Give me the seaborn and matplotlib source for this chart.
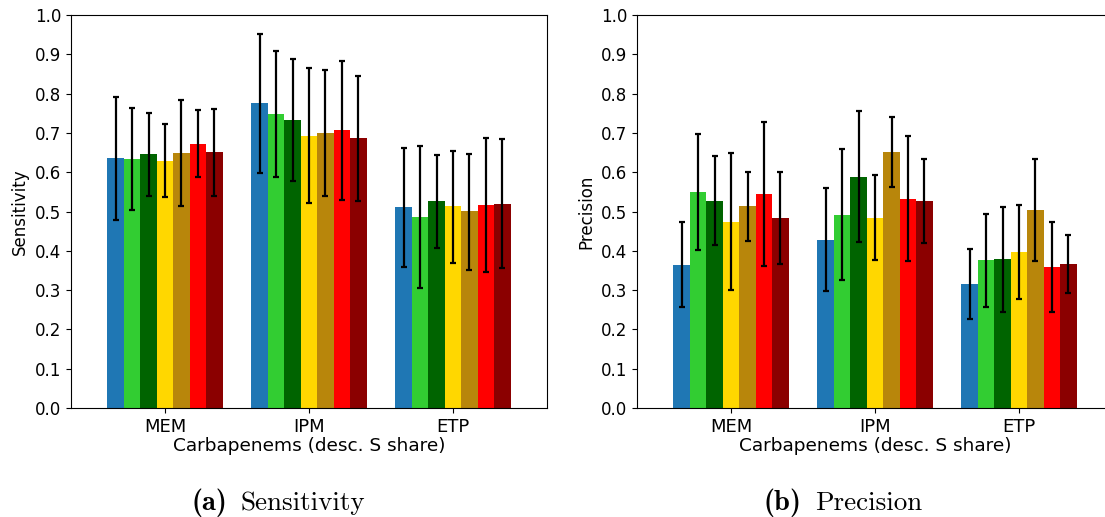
import matplotlib
matplotlib.use("Agg")
import matplotlib.pyplot as plt
import seaborn as sns
import pandas as pd
import numpy as np

plt.rcParams['mathtext.fontset'] = 'cm'
plt.rcParams['axes.unicode_minus'] = False

categories = ["MEM", "IPM", "ETP"]
models = ["M1", "M2", "M3", "M4", "M5", "M6", "M7"]
colors = ["#1f77b4", "#32CD32", "#006400", "#FFD700", "#B8860B", "#FF0000", "#8B0000"]

# Sensitivity: rows = categories, columns = models
sens_val = [[0.636, 0.634, 0.646, 0.628, 0.649, 0.672, 0.651],
            [0.776, 0.748, 0.733, 0.692, 0.700, 0.707, 0.687],
            [0.511, 0.486, 0.527, 0.514, 0.501, 0.516, 0.519]]
sens_lo = [[0.478, 0.504, 0.540, 0.537, 0.515, 0.589, 0.540],
           [0.598, 0.588, 0.578, 0.521, 0.540, 0.529, 0.527],
           [0.360, 0.306, 0.408, 0.370, 0.352, 0.346, 0.355]]
sens_hi = [[0.792, 0.764, 0.751, 0.722, 0.784, 0.757, 0.762],
           [0.952, 0.909, 0.889, 0.866, 0.861, 0.884, 0.846],
           [0.662, 0.667, 0.645, 0.655, 0.647, 0.688, 0.684]]

prec_val = [[0.364, 0.550, 0.527, 0.473, 0.514, 0.545, 0.483],
            [0.427, 0.491, 0.588, 0.483, 0.651, 0.532, 0.527],
            [0.316, 0.377, 0.379, 0.397, 0.504, 0.359, 0.366]]
prec_lo = [[0.257, 0.403, 0.415, 0.300, 0.426, 0.361, 0.366],
           [0.297, 0.325, 0.423, 0.376, 0.563, 0.375, 0.420],
           [0.227, 0.258, 0.245, 0.278, 0.375, 0.244, 0.293]]
prec_hi = [[0.474, 0.696, 0.642, 0.650, 0.601, 0.727, 0.601],
           [0.561, 0.660, 0.755, 0.594, 0.741, 0.693, 0.634],
           [0.405, 0.494, 0.512, 0.517, 0.634, 0.473, 0.441]]

fig = plt.figure(figsize=(11.05, 5.17), dpi=100)
ax1 = fig.add_axes([0.06425, 0.2108, 0.4308, 0.7602])
ax2 = fig.add_axes([0.5765, 0.2108, 0.4308, 0.7602])


def draw(ax, vals, lo, hi, ylabel):
    rows = []
    for i, c in enumerate(categories):
        for j, m in enumerate(models):
            rows.append({"cat": c, "model": m, "val": vals[i][j],
                         "lo": lo[i][j], "hi": hi[i][j]})
    df = pd.DataFrame(rows)
    sns.barplot(data=df, x="cat", y="val", hue="model", order=categories,
                hue_order=models, palette=colors, errorbar=None, gap=0,
                width=0.8, saturation=1, legend=False, ax=ax)
    bars = [p for p in ax.patches if p.get_height() > 0]
    bars.sort(key=lambda p: p.get_x())
    xs = [p.get_x() + p.get_width() / 2 for p in bars]
    # sorted by x -> category-major, model-minor, same as df order
    yerr = np.array([df["val"] - df["lo"], df["hi"] - df["val"]])
    ax.errorbar(xs, df["val"], yerr=yerr, fmt="none", ecolor="black",
                elinewidth=1.6, capsize=2.2, capthick=1.6)
    ax.set_ylim(0, 1.0)
    ax.set_yticks(np.arange(0, 1.01, 0.1))
    ax.set_yticklabels([f"{t:.1f}" for t in np.arange(0, 1.01, 0.1)])
    ax.set_xlim(-0.653, 2.653)
    ax.set_xlabel("Carbapenems (desc. S share)", fontsize=13.3, labelpad=1)
    ax.set_ylabel(ylabel, fontsize=12)
    ax.tick_params(axis="y", labelsize=12)
    ax.tick_params(axis="x", labelsize=13)
    for s in ax.spines.values():
        s.set_visible(True)


draw(ax1, sens_val, sens_lo, sens_hi, "Sensitivity")
draw(ax2, prec_val, prec_lo, prec_hi, "Precision")

ycap = 1 - 510 / 517
fig.text(227 / 1105, ycap, "(a)", ha="right", va="baseline", fontsize=20.5,
         family="cmb10")
fig.text(240 / 1105, ycap, "Sensitivity", ha="left", va="baseline", fontsize=19.5,
         family="cmr10")
fig.text(802 / 1105, ycap, "(b)", ha="right", va="baseline", fontsize=20.5,
         family="cmb10")
fig.text(815 / 1105, ycap, "Precision", ha="left", va="baseline", fontsize=19.5,
         family="cmr10")

fig.savefig("out.png", dpi=100)
